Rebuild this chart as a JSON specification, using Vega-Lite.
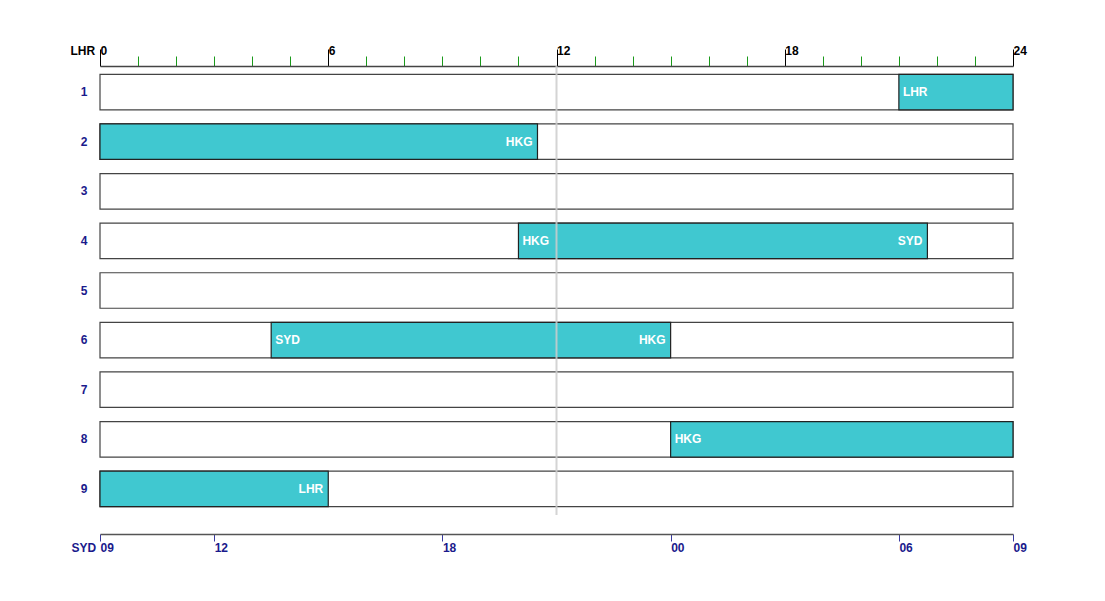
{
  "$schema": "https://vega.github.io/schema/vega-lite/v6.json",
  "width": 913,
  "height": 449,
  "autosize": {"type": "none"},
  "padding": {"left": 100, "top": 66, "right": 92, "bottom": 86},
  "background": "#ffffff",
  "config": {
    "view": {"stroke": null},
    "font": "Liberation Sans"
  },
  "datasets": {
    "rows": [
      {"row": 1}, {"row": 2}, {"row": 3}, {"row": 4}, {"row": 5},
      {"row": 6}, {"row": 7}, {"row": 8}, {"row": 9}
    ],
    "flights": [
      {"row": 1, "start": 21, "end": 24, "startLabel": "LHR", "endLabel": ""},
      {"row": 2, "start": 0, "end": 11.5, "startLabel": "", "endLabel": "HKG"},
      {"row": 4, "start": 11, "end": 21.75, "startLabel": "HKG", "endLabel": "SYD"},
      {"row": 6, "start": 4.5, "end": 15, "startLabel": "SYD", "endLabel": "HKG"},
      {"row": 8, "start": 15, "end": 24, "startLabel": "HKG", "endLabel": ""},
      {"row": 9, "start": 0, "end": 6, "startLabel": "", "endLabel": "LHR"}
    ],
    "now": [{"hour": 12}]
  },
  "layer": [
    {
      "data": {"name": "rows"},
      "mark": {"type": "rect", "fill": "#ffffff", "stroke": "#444444", "strokeWidth": 1.2},
      "encoding": {
        "x": {"datum": 0, "type": "quantitative", "scale": {"domain": [0, 24], "nice": false}, "axis": null},
        "x2": {"datum": 24},
        "y": {
          "field": "row", "type": "ordinal",
          "scale": {"paddingInner": 0.284, "paddingOuter": 0.168},
          "axis": {
            "title": null, "ticks": false, "domain": false, "labelPadding": 13,
            "labelColor": "#1a1a8c", "labelFontWeight": "bold", "labelFontSize": 12,
            "labelFont": "Liberation Sans"
          }
        }
      }
    },
    {
      "data": {"name": "flights"},
      "mark": {"type": "rect", "fill": "#40c8d0", "stroke": "#222222", "strokeWidth": 1.2},
      "encoding": {
        "x": {
          "field": "start", "type": "quantitative",
          "scale": {"domain": [0, 24], "nice": false},
          "axis": {
            "orient": "top",
            "values": [0,1,2,3,4,5,6,7,8,9,10,11,12,13,14,15,16,17,18,19,20,21,22,23,24],
            "labelExpr": "datum.value % 6 === 0 ? datum.label : ''",
            "tickColor": {"condition": {"test": "datum.value % 6 === 0", "value": "#000000"}, "value": "#1a9a1a"},
            "tickSize": {"condition": {"test": "datum.value % 6 === 0", "value": 17}, "value": 10},
            "tickWidth": 1,
            "domainColor": "#444444",
            "domainWidth": 1.5,
            "labelAlign": "left",
            "labelBaseline": "bottom",
            "labelPadding": -8,
            "labelFontWeight": "bold",
            "labelFontSize": 12,
            "labelColor": "#000000",
            "labelFont": "Liberation Sans",
            "labelOverlap": false,
            "labelFlush": false,
            "grid": false,
            "title": "LHR",
            "titleX": -30,
            "titleY": -9,
            "titleAlign": "left",
            "titleBaseline": "bottom",
            "titleFontSize": 12,
            "titleFontWeight": "bold",
            "titleColor": "#000000",
            "titleFont": "Liberation Sans"
          }
        },
        "x2": {"field": "end"},
        "y": {"field": "row", "type": "ordinal"}
      }
    },
    {
      "data": {"name": "now"},
      "mark": {"type": "rule", "color": "#cccccc", "strokeWidth": 2, "opacity": 0.85},
      "encoding": {
        "x": {
          "field": "hour", "type": "quantitative",
          "axis": {
            "orient": "bottom",
            "offset": 19,
            "values": [0, 3, 9, 15, 21, 24],
            "labelExpr": "(((datum.value + 9) % 24) < 10 ? '0' : '') + ((datum.value + 9) % 24)",
            "tickColor": "#3a3aa0",
            "tickSize": 7,
            "domainColor": "#555555",
            "domainWidth": 1.5,
            "labelAlign": "left",
            "labelBaseline": "top",
            "labelPadding": 1,
            "labelFontWeight": "bold",
            "labelFontSize": 12,
            "labelColor": "#1a1a8c",
            "labelFont": "Liberation Sans",
            "labelOverlap": false,
            "labelFlush": false,
            "grid": false,
            "title": "SYD",
            "titleX": -29,
            "titleY": 8,
            "titleAlign": "left",
            "titleBaseline": "top",
            "titleFontSize": 12,
            "titleFontWeight": "bold",
            "titleColor": "#1a1a8c",
            "titleFont": "Liberation Sans"
          }
        }
      }
    },
    {
      "data": {"name": "flights"},
      "mark": {"type": "text", "align": "left", "baseline": "middle", "dx": 4, "color": "#ffffff", "fontWeight": "bold", "fontSize": 12, "font": "Liberation Sans"},
      "encoding": {
        "x": {"field": "start", "type": "quantitative", "axis": null},
        "y": {"field": "row", "type": "ordinal"},
        "text": {"field": "startLabel"}
      }
    },
    {
      "data": {"name": "flights"},
      "mark": {"type": "text", "align": "right", "baseline": "middle", "dx": -5, "color": "#ffffff", "fontWeight": "bold", "fontSize": 12, "font": "Liberation Sans"},
      "encoding": {
        "x": {"field": "end", "type": "quantitative", "axis": null},
        "y": {"field": "row", "type": "ordinal"},
        "text": {"field": "endLabel"}
      }
    }
  ],
  "resolve": {"axis": {"x": "independent"}}
}
